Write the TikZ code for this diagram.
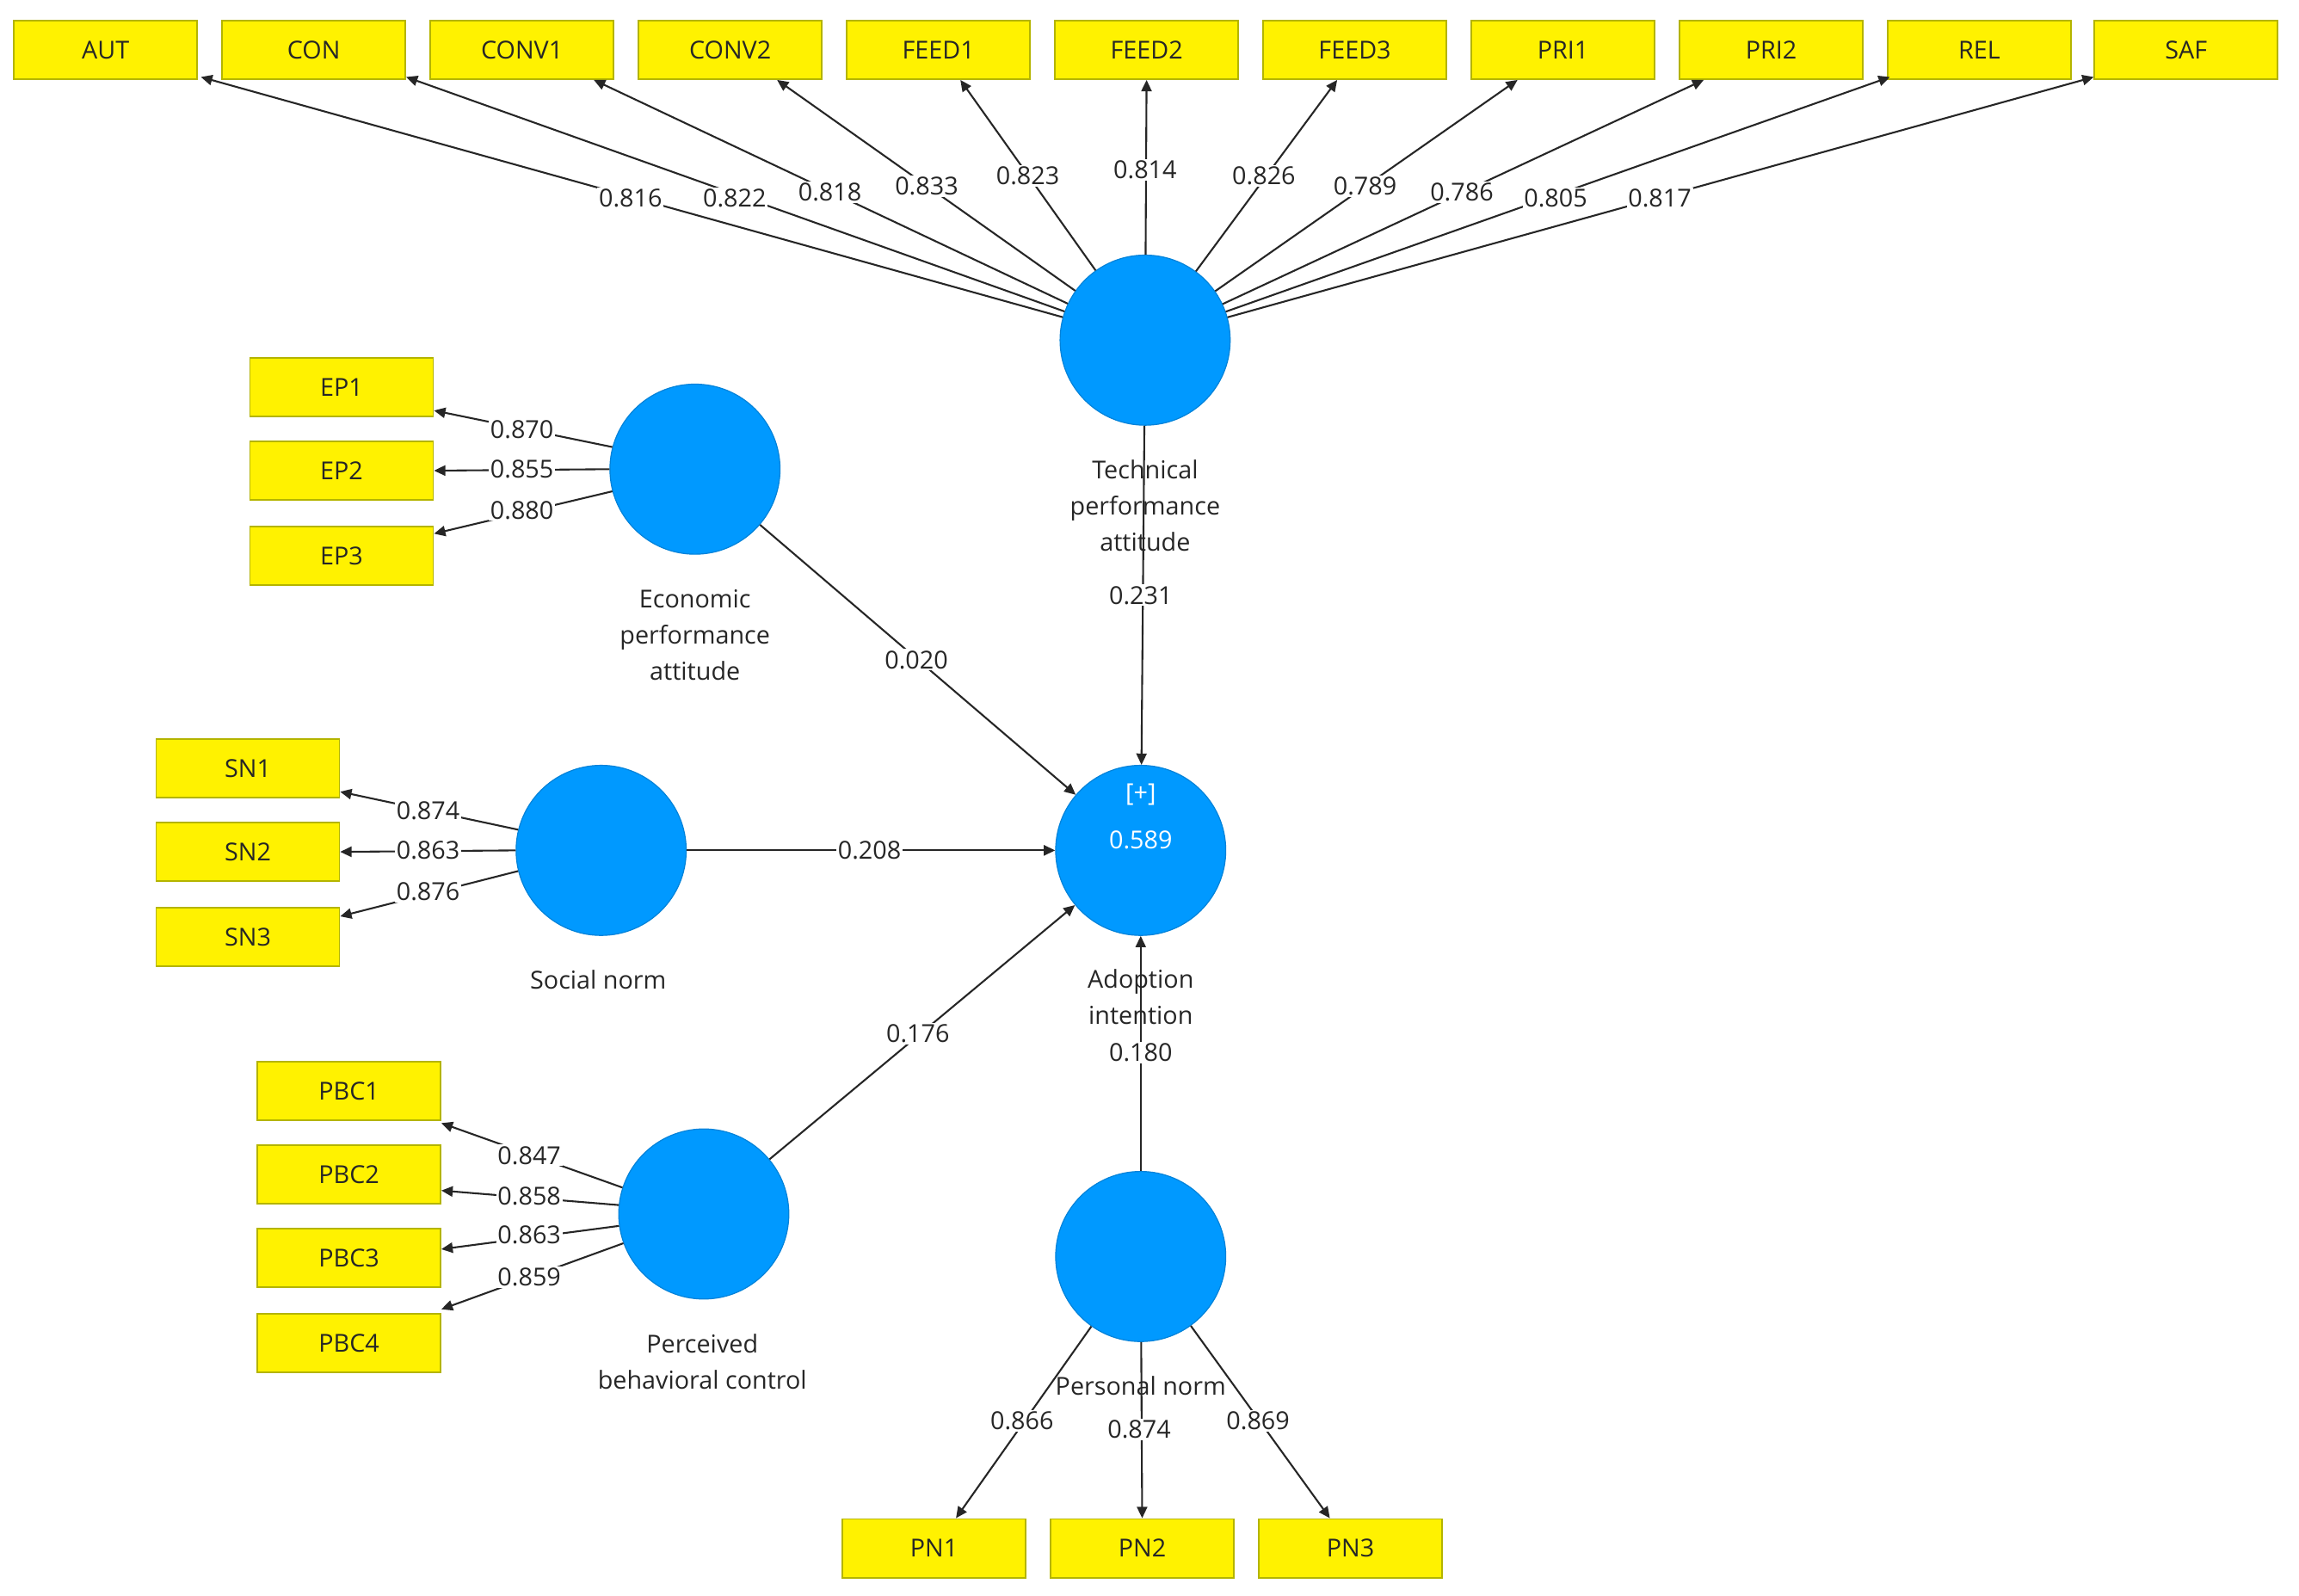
\documentclass[tikz,border=0pt]{standalone}
\usepackage{fontspec}
\setmainfont{Open Sans}
\usetikzlibrary{calc,arrows.meta}
\definecolor{lvblue}{HTML}{0099FF}
\definecolor{ybord}{HTML}{B4B400}
\begin{document}
\begin{tikzpicture}[x=0.1cm,y=-0.1cm,
  every node/.style={font=\fontsize{48}{70}\selectfont, text=black!85},
  box/.style={draw=ybord,line width=3pt,fill=yellow,minimum width=12.5cm,minimum height=4cm,inner sep=0pt},
  lv/.style={circle,fill=lvblue,draw=lvblue!85!black,line width=2pt,minimum size=11.6cm,inner sep=0pt},
  ar/.style={line width=3.5pt,draw=black!85,-{Triangle[length=22pt,width=20pt]}},
  ln/.style={fill=white,inner sep=3pt},
  nm/.style={align=center}]
\useasboundingbox (0,0) rectangle (1568,1088);
% top indicators
\foreach \n/\t/\x in {aut/AUT/72,con/CON/214,conva/CONV1/356,convb/CONV2/498,fa/FEED1/640,fb/FEED2/782,fc/FEED3/924,pa/PRI1/1066,pb/PRI2/1208,rel/REL/1350,saf/SAF/1491}
  \node[box] (\n) at (\x,34) {\t};
\foreach \n/\t/\y in {epa1/EP1/264,epa2/EP2/321,epa3/EP3/379} \node[box] (\n) at (233,\y) {\t};
\foreach \n/\t/\y in {sna/SN1/524,snb/SN2/581,snc/SN3/639} \node[box] (\n) at (169,\y) {\t};
\foreach \n/\t/\y in {pbca/PBC1/744,pbcb/PBC2/801,pbcc/PBC3/858,pbcd/PBC4/916} \node[box] (\n) at (238,\y) {\t};
\foreach \n/\t/\x in {pna/PN1/637,pnb/PN2/779,pnc/PN3/921} \node[box] (\n) at (\x,1056) {\t};
% latent
\node[lv] (tpa) at (781,232) {};
\node[lv] (epa) at (474,320) {};
\node[lv] (sn) at (410,580) {};
\node[lv] (ai) at (778,580) {};
\node[lv] (pbc) at (480,828) {};
\node[lv] (pn) at (778,857) {};
% targets top
\coordinate (taut) at ($(aut.south east)+(2,-2)$);
\coordinate (tcon) at ($(con.south east)+(0,-2)$);
\coordinate (tconva) at ($(conva.south)+(49,0)$);
\coordinate (tconvb) at ($(convb.south)+(32,0)$);
\coordinate (tfa) at ($(fa.south)+(15,0)$);
\coordinate (tfb) at (fb.south);
\coordinate (tfc) at ($(fc.south)+(-12,0)$);
\coordinate (tpa1) at ($(pa.south)+(-31,0)$);
\coordinate (tpb) at ($(pb.south)+(-46,0)$);
\coordinate (trel) at ($(rel.south west)+(2,-2)$);
\coordinate (tsaf) at ($(saf.south west)+(0,-2)$);
\foreach \c in {taut,tcon,tconva,tconvb,tfa,tfb,tfc,tpa1,tpb,trel,tsaf} \draw[ar] (tpa) -- (\c);
% left fans
\draw[ar] (epa.165) -- ($(epa1.east)+(0,16)$);
\draw[ar] (epa.180) -- (epa2.east);
\draw[ar] (epa.195) -- ($(epa3.east)+(0,-15)$);
\draw[ar] (sn.166) -- ($(sna.east)+(0,16)$);
\draw[ar] (sn.180) -- (snb.east);
\draw[ar] (sn.194) -- ($(snc.east)+(0,-14)$);
\draw[ar] (pbc.162) -- ($(pbca.east)+(0,22)$);
\draw[ar] (pbc.174) -- ($(pbcb.east)+(0,11)$);
\draw[ar] (pbc.188) -- ($(pbcc.east)+(0,-6)$);
\draw[ar] (pbc.200) -- ($(pbcd.east)+(0,-23)$);
\draw[ar] (pn) -- ($(pna.north)+(15,0)$);
\draw[ar] (pn) -- (pnb.north);
\draw[ar] (pn) -- ($(pnc.north)+(-14,0)$);
% structural
\draw[ar] (tpa) -- (ai);
\draw[ar] (epa) -- (ai);
\draw[ar] (sn) -- (ai);
\draw[ar] (pbc) -- (ai);
\draw[ar] (pn) -- (ai);
% loadings
\foreach \v/\x/\y in {0.816/430/135,0.822/501/135,0.818/566/131,0.833/632/127,0.823/701/120,0.814/781/116,0.826/862/120,0.789/931/127,0.786/997/131,0.805/1061/135,0.817/1132/135,
 0.870/356/293,0.855/356/320,0.880/356/348,0.874/292/553,0.863/292/580,0.876/292/608,
 0.847/361/788,0.858/361/816,0.863/361/842,0.859/361/871,0.866/697/969,0.874/777/975,0.869/858/969,
 0.231/778/406,0.020/625/450,0.208/593/580,0.176/626/705,0.180/778/718}
  \node[ln] at (\x,\y) {\v};
% names
\node[nm] at (781,345) {Technical\\performance\\attitude};
\node[nm] at (474,433) {Economic\\performance\\attitude};
\node[nm] at (408,668) {Social norm};
\node[nm] at (479,929) {Perceived\\behavioral control};
\node[nm] at (778,680) {Adoption\\intention};
\node[nm] at (778,945) {Personal norm};
\node[text=white] at (778,542) {[+]};
\node[text=white] at (778,573) {0.589};
\end{tikzpicture}
\end{document}
